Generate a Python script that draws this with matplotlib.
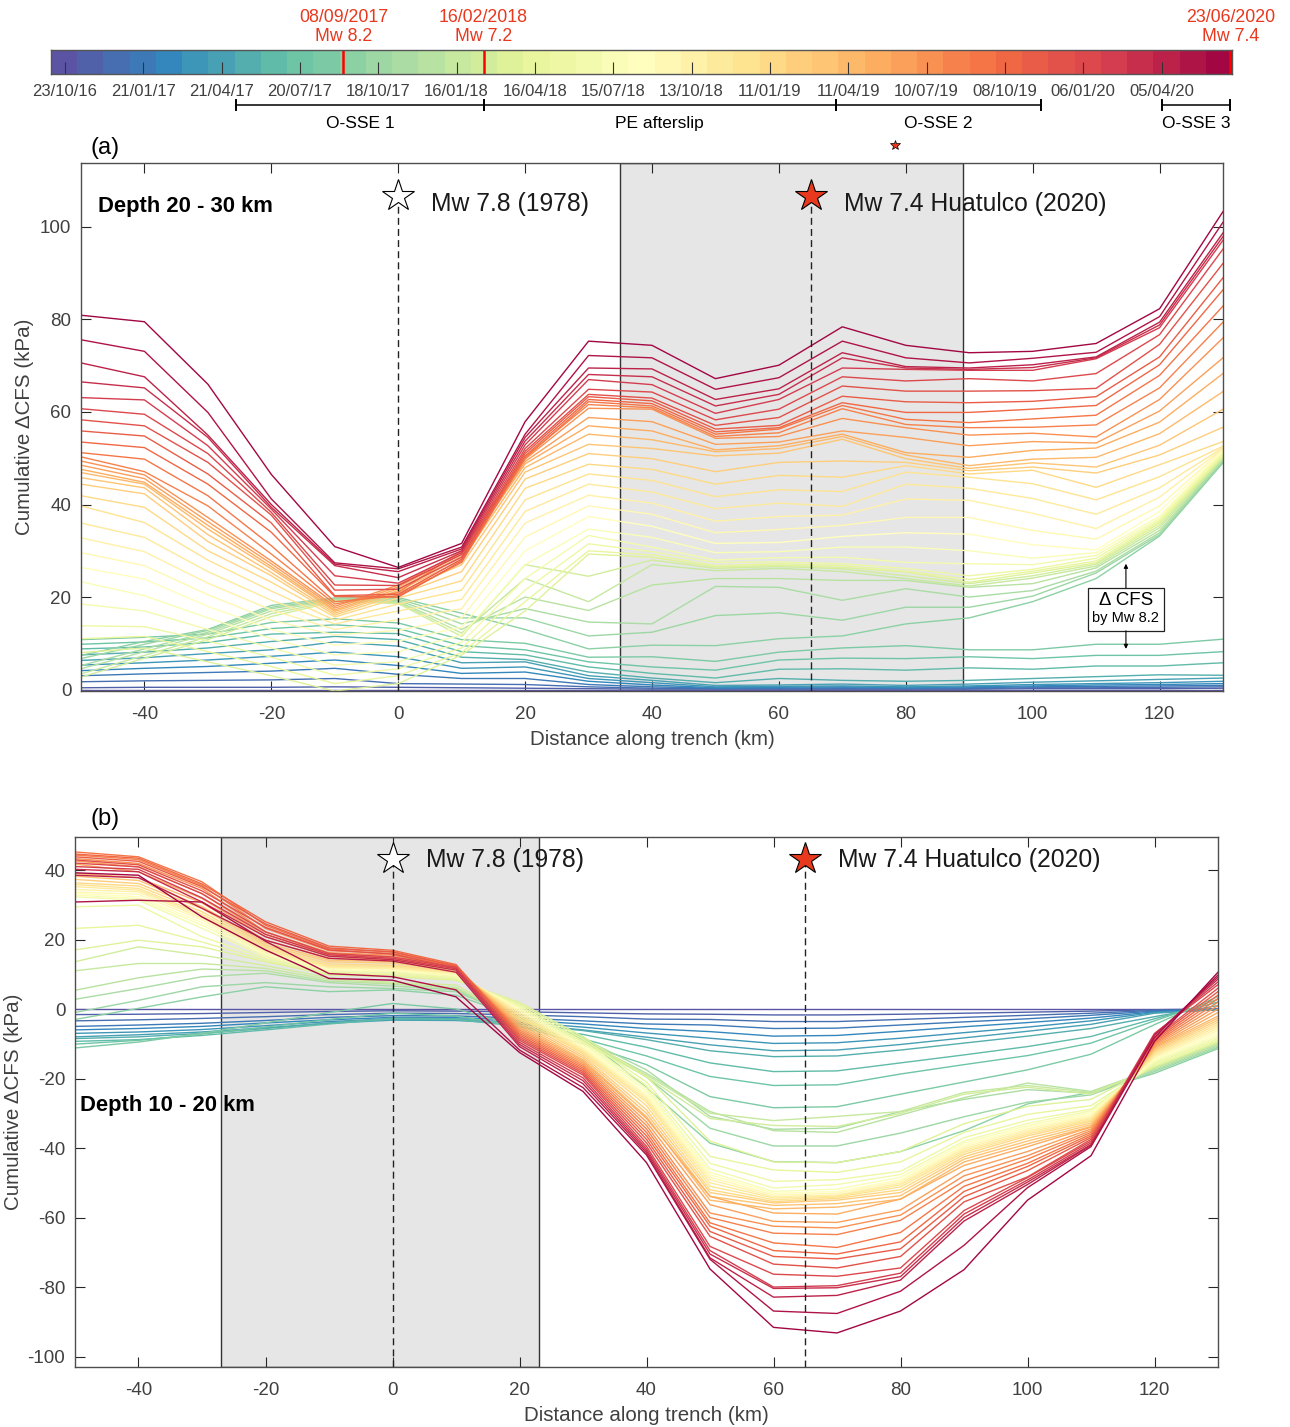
import numpy as np
import pandas as pd
import matplotlib
matplotlib.use('Agg')
import matplotlib.pyplot as plt
import matplotlib.dates as mdates
import matplotlib.transforms as mtransforms
from matplotlib.colors import ListedColormap
from matplotlib.patches import Rectangle

plt.rcParams['font.family'] = ['Liberation Sans', 'DejaVu Sans']
plt.rcParams['axes.unicode_minus'] = False

# distance along trench (km) where the profiles are sampled
distance = [-50, -40, -30, -20, -10, 0, 10, 20, 30, 40, 50, 60, 70, 80, 90, 100, 110, 120, 130]

# cumulative dCFS (kPa), depth 20-30 km
# one row per distance, one value per monthly epoch (oldest first)
cfs_20_30_by_distance = [
    [0, 0.4, 1.7, 3.0, 4.1, 5.3, 6.3, 7.5, 8.8, 9.8, 10.8, 7.4, 6.7, 5.2, 4.5, 3.4, 2.7, 8.0, 11.0, 13.8,
     18.5, 23.3, 26.4, 29.6, 32.8, 36.0, 39.7, 41.9, 44.4, 45.8, 46.9, 47.6, 48.5, 49.4, 50.3, 51.2, 53.5,
     55.9, 58.3, 60.7, 63.1, 66.5, 70.6, 75.6, 80.9],
    [0, 0.5, 1.9, 3.4, 4.6, 5.8, 6.9, 8.1, 9.2, 10.3, 11.3, 10.4, 9.8, 8.8, 8.2, 7.4, 6.8, 9.0, 11.5, 13.6,
     17.0, 20.3, 23.9, 26.8, 29.8, 32.9, 36.1, 39.4, 42.3, 43.6, 44.4, 44.8, 45.6, 46.4, 47.1, 49.8, 52.3,
     54.8, 57.0, 59.5, 62.6, 65.2, 67.6, 73.1, 79.5],
    [0, 0.5, 2.0, 3.7, 5.0, 6.4, 7.8, 9.0, 10.2, 11.2, 12.0, 13.0, 12.8, 12.4, 12.0, 11.4, 10.8, 6.0, 8.2, 10.5,
     13.0, 15.5, 18.0, 20.5, 23.0, 25.5, 28.0, 30.0, 32.0, 33.5, 34.7, 35.5, 36.3, 37.2, 39.7, 41.9, 44.4,
     46.6, 49.1, 51.0, 52.7, 54.5, 55.0, 59.9, 66.0],
    [0, 0.5, 2.1, 4.0, 5.7, 7.2, 8.6, 10.4, 12.0, 13.2, 14.5, 18.2, 17.8, 17.5, 17.0, 16.4, 15.8, 3.0, 5.0, 7.0,
     9.0, 11.0, 13.0, 15.0, 17.2, 19.3, 21.3, 23.2, 24.6, 25.3, 26.1, 26.6, 27.2, 27.8, 29.3, 31.1, 34.0,
     36.0, 37.7, 38.3, 39.0, 39.4, 40.0, 41.2, 46.5],
    [0, 0.6, 2.4, 4.6, 6.4, 8.1, 10.3, 11.5, 12.4, 14.0, 15.3, 19.8, 19.6, 19.5, 19.4, 19.2, 19.0, -0.3, 1.3, 3.1,
     5.3, 7.5, 9.6, 11.8, 13.0, 14.2, 15.0, 15.7, 16.1, 16.5, 16.9, 17.2, 17.6, 18.0, 18.5, 19.0, 20.1,
     20.3, 21.5, 22.6, 24.6, 26.8, 27.1, 27.4, 30.9],
    [0, 0.5, 1.3, 3.3, 5.2, 7.1, 9.4, 10.8, 12.1, 13.2, 14.4, 19.9, 19.6, 19.3, 19.0, 18.8, 18.6, 1.3, 3.0, 4.5,
     6.0, 8.2, 10.5, 12.8, 15.1, 17.0, 18.5, 19.8, 20.5, 21.0, 21.4, 21.8, 22.2, 22.6, 21.0, 20.3, 20.0,
     20.6, 21.7, 22.5, 23.0, 24.2, 25.5, 26.1, 26.4],
    [0, 0.4, 1.2, 2.4, 3.5, 4.6, 5.8, 7.0, 8.2, 9.5, 10.8, 16.5, 15.5, 14.2, 13.0, 12.2, 11.5, 7.5, 8.0, 9.0,
     10.2, 11.8, 13.5, 15.5, 17.5, 19.5, 21.5, 23.5, 25.5, 27.0, 28.0, 28.8, 29.3, 29.8, 30.0, 27.5, 27.8,
     28.2, 28.6, 29.2, 29.6, 30.0, 30.4, 30.8, 31.6],
    [0, 0.3, 1.1, 2.4, 3.8, 4.9, 6.0, 6.5, 7.5, 8.6, 10.0, 13.0, 15.5, 17.5, 20.0, 24.0, 27.0, 17.0, 19.0, 21.5,
     24.0, 27.0, 30.0, 33.0, 36.0, 38.5, 41.0, 43.5, 45.5, 47.0, 48.0, 48.8, 49.3, 49.8, 50.3, 50.0, 50.5,
     51.0, 51.5, 52.1, 52.9, 53.7, 54.5, 55.2, 57.9],
    [0, 0.2, 0.6, 1.1, 1.8, 2.4, 3.0, 3.8, 4.9, 6.0, 7.0, 8.8, 11.6, 14.6, 17.1, 19.0, 24.5, 29.3, 30.0, 31.5,
     33.3, 34.7, 37.4, 39.7, 42.0, 44.4, 46.6, 48.7, 51.0, 53.0, 55.2, 57.0, 58.8, 60.8, 61.6, 62.2, 62.7,
     63.3, 63.8, 64.9, 67.0, 68.1, 69.5, 72.2, 75.3],
    [0, 0.1, 0.3, 0.6, 1.0, 1.5, 2.0, 2.5, 3.5, 4.9, 7.1, 9.6, 12.4, 14.2, 22.6, 27.0, 28.0, 28.6, 29.1, 29.8,
     30.8, 32.9, 35.3, 37.9, 40.3, 42.7, 45.2, 47.6, 49.9, 52.1, 54.0, 55.9, 57.9, 60.6, 60.9, 61.3, 61.8,
     62.4, 63.0, 64.3, 65.9, 67.6, 69.3, 71.7, 74.4],
    [0, 0.1, 0.2, 0.3, 0.4, 0.6, 0.9, 1.5, 2.5, 4.2, 6.1, 9.5, 16.0, 22.3, 24.0, 25.7, 26.2, 26.5, 26.8, 27.5,
     28.0, 29.6, 31.6, 33.9, 36.4, 39.1, 41.7, 44.4, 47.1, 50.5, 51.4, 51.8, 53.0, 54.3, 54.7, 55.2, 55.7,
     56.3, 57.1, 58.3, 59.7, 61.3, 62.7, 64.9, 67.2],
    [0, 0.1, 0.2, 0.3, 0.5, 0.7, 1.0, 2.4, 4.4, 6.4, 8.1, 11.0, 16.6, 22.1, 24.0, 26.2, 26.6, 26.9, 27.2, 27.6,
     28.5, 29.8, 31.8, 34.6, 37.4, 40.3, 43.2, 46.3, 49.1, 51.1, 52.1, 52.7, 53.5, 54.7, 55.5, 56.3, 56.6,
     57.1, 58.8, 60.6, 62.7, 63.8, 65.0, 67.4, 70.1],
    [0, 0.1, 0.2, 0.4, 0.6, 0.8, 1.2, 2.0, 4.5, 6.8, 9.0, 11.6, 15.0, 19.3, 23.6, 25.5, 26.1, 26.4, 26.8, 27.2,
     28.6, 30.8, 33.1, 35.5, 37.7, 39.6, 42.8, 45.9, 49.4, 54.1, 54.7, 55.2, 55.9, 58.6, 60.7, 61.4, 62.0,
     63.4, 65.6, 67.6, 69.5, 71.7, 72.8, 75.3, 78.4],
    [0, 0.1, 0.2, 0.3, 0.4, 0.6, 0.9, 1.8, 4.2, 6.7, 9.5, 14.2, 17.8, 21.8, 23.6, 24.0, 24.6, 25.4, 25.6, 26.2,
     27.5, 30.8, 33.9, 37.2, 41.2, 44.4, 47.0, 48.4, 49.1, 49.9, 50.7, 51.2, 54.5, 56.6, 57.3, 58.4, 59.9,
     62.2, 64.5, 66.7, 69.2, 69.5, 69.8, 71.7, 74.4],
    [0, 0.1, 0.2, 0.4, 0.6, 0.8, 1.2, 2.0, 4.7, 7.1, 8.6, 15.5, 17.8, 20.0, 22.1, 22.4, 22.9, 23.2, 23.8, 24.6,
     27.2, 30.0, 33.6, 37.2, 40.9, 43.5, 45.9, 46.6, 47.3, 47.8, 48.4, 50.2, 52.7, 55.0, 56.6, 57.7, 59.9,
     62.0, 64.5, 67.2, 69.0, 69.2, 69.5, 70.6, 72.8],
    [0, 0.2, 0.4, 0.6, 0.8, 1.1, 1.6, 2.4, 4.4, 6.7, 8.6, 19.0, 20.2, 21.4, 22.9, 24.1, 24.6, 25.2, 25.6, 26.0,
     27.0, 28.4, 31.3, 34.4, 38.1, 41.3, 44.5, 47.4, 48.1, 49.0, 49.8, 51.7, 53.6, 55.4, 56.7, 58.5, 60.6,
     62.3, 64.6, 66.7, 69.0, 69.6, 70.2, 71.6, 73.1],
    [0, 0.2, 0.4, 0.7, 1.0, 1.3, 1.9, 2.8, 5.1, 7.4, 9.8, 24.0, 25.2, 25.6, 26.3, 26.7, 27.1, 27.4, 27.8, 28.4,
     29.0, 29.6, 30.2, 32.5, 34.8, 37.9, 41.0, 43.7, 46.8, 48.1, 50.2, 52.2, 53.3, 54.6, 57.2, 59.3, 61.4,
     63.3, 65.1, 68.3, 71.5, 71.7, 71.9, 72.9, 74.8],
    [0, 0.2, 0.5, 0.8, 1.1, 1.5, 2.2, 3.2, 5.1, 7.4, 9.8, 33.2, 33.5, 33.9, 34.4, 35.0, 35.5, 36.0, 36.3, 36.6,
     37.0, 37.5, 38.5, 39.7, 41.6, 43.6, 46.0, 48.6, 50.7, 52.8, 55.3, 57.8, 60.2, 62.7, 65.2, 67.9, 70.2,
     71.9, 74.6, 76.7, 78.2, 78.8, 79.4, 80.6, 82.3],
    [0, 0.3, 0.6, 0.9, 1.3, 1.8, 2.5, 3.1, 5.8, 8.2, 10.9, 49.0, 49.3, 49.6, 49.8, 50.0, 50.2, 50.4, 50.7, 51.0,
     51.3, 51.5, 51.7, 51.9, 52.1, 52.3, 52.6, 53.6, 56.7, 60.6, 64.4, 68.3, 71.7, 76.0, 79.4, 82.9, 86.4,
     89.0, 92.1, 95.2, 97.1, 97.9, 98.7, 101.0, 103.3],
]

# cumulative dCFS (kPa), depth 10-20 km
# one row per monthly epoch (oldest first), one value per distance
cfs_10_20 = [
    [0, 0, 0, 0, 0, 0, 0, 0, 0, 0, 0, 0, 0, 0, 0, 0, 0, 0, 0],
    [-1.6, -1.5, -1.3, -1.0, -0.7, -0.5, -0.6, -0.8, -1.1, -1.4, -1.5, -1.7, -1.7, -1.5, -1.2, -0.9, -0.6, -0.2, 0.0],
    [-3.4, -3.1, -2.7, -2.2, -1.6, -1.2, -1.3, -1.7, -2.2, -2.9, -3.0, -3.6, -3.6, -3.0, -2.4, -1.8, -1.2, -0.4, 0.0],
    [-5.0, -4.6, -4.1, -3.3, -2.4, -1.9, -2.0, -2.6, -3.4, -4.3, -4.6, -5.6, -5.5, -4.6, -3.7, -2.8, -1.8, -0.6, -0.1],
    [-6.0, -5.6, -5.0, -4.0, -3.1, -2.4, -2.5, -3.2, -4.3, -5.6, -6.5, -7.8, -7.6, -6.4, -5.1, -3.9, -2.6, -0.8, -0.2],
    [-7.0, -6.6, -5.9, -4.8, -3.6, -2.9, -3.0, -3.8, -5.2, -6.9, -8.4, -9.9, -9.7, -8.4, -6.8, -5.2, -3.4, -1.0, -0.2],
    [-8.0, -7.4, -6.6, -5.4, -4.1, -3.2, -3.3, -4.3, -6.0, -8.1, -10.3, -12.0, -11.8, -10.2, -8.3, -6.4, -4.4, -1.2, -0.2],
    [-8.5, -8.0, -7.0, -5.6, -4.0, -2.6, -2.8, -4.4, -6.2, -8.8, -12.0, -13.7, -13.5, -11.8, -9.8, -7.8, -5.6, -2.2, 1.0],
    [-9.3, -8.8, -7.6, -6.0, -4.3, -2.8, -3.0, -5.0, -7.3, -11.0, -15.5, -18.0, -17.8, -15.5, -13.2, -10.8, -7.9, -2.8, 2.0],
    [-10.1, -9.0, -7.2, -5.2, -3.0, -1.2, -2.0, -5.0, -8.6, -13.5, -19.4, -22.0, -21.8, -18.7, -16.0, -13.4, -9.8, -3.4, 2.8],
    [-11.2, -9.5, -7.0, -4.0, -1.0, 1.6, 0.0, -5.0, -10.0, -16.0, -25.2, -28.4, -28.1, -24.5, -21.0, -17.5, -13.0, -4.5, 3.6],
    [-3.0, 0.2, 3.5, 6.4, 5.0, 5.5, 4.0, -2.5, -8.0, -22.6, -38.6, -43.9, -44.2, -41.0, -35.0, -27.3, -24.0, -18.5, -11.4],
    [-1.0, 2.5, 6.4, 7.6, 6.4, 5.9, 5.0, -2.5, -8.0, -19.6, -34.3, -39.4, -39.4, -35.7, -31.0, -26.8, -24.7, -18.0, -11.0],
    [2.8, 5.9, 9.3, 10.3, 7.6, 6.6, 5.5, -2.8, -8.5, -17.5, -30.9, -34.6, -34.3, -29.5, -26.0, -23.2, -24.2, -17.6, -10.6],
    [5.4, 9.0, 11.5, 11.0, 8.0, 7.2, 5.9, -3.0, -9.0, -18.5, -29.5, -35.0, -35.5, -30.5, -25.5, -21.3, -23.7, -17.2, -10.2],
    [11.0, 13.1, 13.1, 11.7, 8.5, 7.4, 6.2, -3.2, -9.3, -19.0, -30.0, -32.1, -30.9, -29.5, -24.0, -22.0, -24.0, -17.0, -9.8],
    [13.6, 17.9, 15.5, 12.5, 9.0, 7.7, 6.9, -3.0, -9.5, -19.5, -31.5, -33.5, -33.8, -30.0, -24.5, -22.5, -24.5, -16.8, -9.5],
    [17.0, 19.8, 17.9, 13.6, 9.8, 9.3, 8.3, 1.9, -8.0, -19.5, -38.0, -44.0, -44.2, -41.0, -33.0, -28.0, -26.0, -16.5, -9.5],
    [23.2, 24.1, 19.3, 14.0, 10.2, 9.8, 8.6, 1.5, -8.6, -21.0, -42.4, -46.3, -47.0, -44.0, -35.5, -30.3, -27.8, -16.0, -9.0],
    [29.4, 29.9, 20.8, 14.6, 10.6, 10.2, 9.0, 1.0, -9.3, -22.0, -44.4, -49.6, -49.1, -46.7, -37.0, -32.0, -28.8, -15.6, -8.5],
    [32.3, 31.3, 23.2, 15.0, 11.0, 10.7, 9.3, 0.6, -9.8, -22.8, -46.0, -51.5, -50.5, -47.6, -38.0, -32.9, -29.3, -15.2, -8.0],
    [32.8, 31.8, 24.1, 15.5, 11.2, 11.0, 9.6, 0.2, -10.3, -23.6, -47.0, -52.5, -51.8, -48.4, -38.6, -33.5, -29.8, -14.8, -7.4],
    [33.3, 32.3, 24.8, 15.8, 11.5, 11.2, 9.8, -0.2, -10.8, -24.4, -47.7, -53.0, -52.5, -49.1, -39.2, -34.0, -30.3, -14.4, -6.8],
    [33.7, 33.0, 25.6, 16.2, 11.8, 11.5, 10.0, -0.6, -11.2, -25.0, -48.4, -53.5, -53.0, -49.6, -39.7, -34.5, -30.7, -14.0, -6.2],
    [34.4, 33.7, 26.2, 16.5, 12.0, 11.7, 10.3, -1.0, -11.6, -25.6, -49.1, -54.0, -53.5, -50.1, -40.2, -35.0, -31.1, -13.6, -5.6],
    [35.2, 34.2, 26.8, 17.0, 12.2, 12.0, 10.5, -1.5, -12.0, -26.2, -50.0, -54.4, -53.8, -50.6, -40.7, -35.5, -31.5, -13.2, -5.0],
    [35.8, 34.7, 27.3, 17.4, 12.5, 12.3, 10.7, -2.0, -12.4, -26.8, -51.0, -54.9, -54.1, -51.2, -41.2, -36.0, -31.9, -12.8, -4.4],
    [36.3, 35.4, 28.0, 17.9, 13.0, 12.6, 11.0, -2.6, -12.8, -27.8, -52.0, -55.4, -54.5, -52.0, -41.8, -36.5, -32.3, -12.4, -3.8],
    [37.3, 36.1, 28.9, 18.4, 13.6, 13.2, 11.2, -3.2, -13.4, -29.0, -52.8, -55.8, -55.0, -52.8, -42.5, -37.2, -32.8, -12.0, -3.2],
    [38.2, 37.0, 29.5, 19.0, 14.1, 13.6, 11.5, -3.8, -14.0, -30.0, -53.9, -56.5, -56.0, -53.7, -43.2, -38.0, -33.3, -11.6, -2.6],
    [39.0, 37.8, 30.5, 19.8, 14.6, 14.1, 11.8, -4.4, -14.6, -31.0, -55.0, -57.5, -57.0, -54.7, -44.0, -38.8, -33.8, -11.2, -2.0],
    [41.7, 39.5, 31.8, 20.8, 15.2, 14.5, 11.8, -5.0, -15.0, -31.5, -53.9, -58.7, -59.0, -54.7, -45.0, -39.6, -34.0, -11.0, -1.0],
    [42.6, 40.9, 33.2, 21.5, 15.8, 15.0, 11.9, -5.5, -15.5, -32.5, -56.3, -61.1, -61.4, -57.8, -46.5, -41.0, -34.5, -10.6, 0.0],
    [43.3, 41.9, 34.7, 22.2, 16.2, 15.5, 12.0, -6.0, -16.0, -33.5, -58.7, -62.5, -63.0, -59.3, -48.0, -42.2, -35.0, -10.2, 1.0],
    [44.3, 43.0, 35.6, 23.2, 16.8, 16.0, 12.2, -6.5, -16.5, -34.5, -60.0, -64.5, -64.9, -60.8, -49.5, -43.2, -35.5, -9.8, 2.0],
    [45.2, 43.8, 36.6, 24.1, 17.3, 16.5, 12.5, -7.0, -17.0, -35.5, -61.5, -67.3, -68.6, -64.3, -51.0, -44.4, -36.0, -9.4, 3.0],
    [44.6, 43.4, 36.0, 25.1, 18.1, 16.9, 12.8, -7.5, -17.5, -36.5, -62.5, -69.5, -70.5, -67.0, -52.5, -45.3, -36.5, -9.0, 4.0],
    [43.8, 42.5, 35.2, 24.5, 17.6, 16.4, 12.3, -8.0, -18.0, -37.5, -64.0, -71.2, -71.9, -69.0, -54.0, -46.5, -37.0, -8.6, 5.0],
    [42.9, 41.5, 34.0, 23.5, 17.0, 15.8, 11.8, -8.5, -18.5, -38.5, -65.4, -73.4, -74.5, -71.2, -55.5, -48.3, -37.5, -8.3, 6.0],
    [42.0, 40.9, 33.2, 22.2, 16.0, 15.0, 12.0, -9.0, -19.0, -39.5, -68.3, -76.3, -76.9, -74.5, -58.0, -48.5, -38.0, -7.0, 7.0],
    [41.0, 40.2, 32.0, 21.5, 15.6, 14.6, 11.6, -9.6, -19.8, -40.2, -69.5, -80.0, -79.6, -76.0, -59.0, -49.2, -38.5, -7.2, 7.8],
    [40.2, 39.5, 30.8, 20.8, 15.2, 14.2, 11.2, -10.2, -20.6, -40.8, -70.5, -80.4, -80.2, -77.0, -60.0, -49.8, -39.0, -7.4, 8.6],
    [38.5, 37.8, 29.0, 19.8, 14.6, 13.8, 10.6, -10.8, -21.5, -41.4, -71.6, -82.9, -82.4, -78.0, -61.0, -50.5, -39.2, -7.6, 9.2],
    [30.8, 31.3, 30.8, 19.5, 10.2, 9.3, 5.5, -11.8, -22.6, -42.0, -72.0, -86.9, -87.6, -81.2, -68.0, -51.4, -39.6, -8.2, 9.8],
    [39.2, 38.5, 26.5, 17.0, 8.8, 8.3, 3.5, -12.5, -23.7, -44.2, -74.8, -91.6, -93.2, -86.9, -75.0, -55.0, -42.2, -9.3, 10.6],
]

# colour bar: one cell per monthly epoch
epoch_first = '07/10/2016'
epoch_last = '25/06/2020'
date_ticks = ['23/10/16', '21/01/17', '21/04/17', '20/07/17', '18/10/17', '16/01/18', '16/04/18', '15/07/18',
              '13/10/18', '11/01/19', '11/04/19', '10/07/19', '08/10/19', '06/01/20', '05/04/20']

event_dates = ['08/09/2017', '16/02/2018', '23/06/2020']
event_names = ['Mw 8.2', 'Mw 7.2', 'Mw 7.4']

phases = ['O-SSE 1', 'PE afterslip', 'O-SSE 2', 'O-SSE 3']
phase_start = ['08/05/2017', '16/02/2018', '28/03/2019', '06/04/2020']
phase_end = ['16/02/2018', '28/03/2019', '19/11/2019', '23/06/2020']
marked_day = '04/06/2019'

# large earthquakes along the profile
quake_x = [0, 65]
quake_names = ['Mw 7.8 (1978)', 'Mw 7.4 Huatulco (2020)']
quake_face = ['white', '#e8381e']

profiles_a = np.array(cfs_20_30_by_distance).T
profiles_b = np.array(cfs_10_20)
n_epochs = profiles_b.shape[0]
line_colors = plt.get_cmap('Spectral_r')((np.arange(n_epochs) + 0.5) / n_epochs)

GREY = '#404040'


def to_num(day):
    return mdates.date2num(pd.to_datetime(day, dayfirst=True))


fig = plt.figure(figsize=(12.9, 14.27), dpi=100)
W, H = 1290.0, 1427.0
ax_cb = fig.add_axes([51 / W, 1 - 74 / H, 1181 / W, 24 / H])
ax_a = fig.add_axes([81 / W, 1 - 691 / H, 1142 / W, 528 / H])
ax_b = fig.add_axes([75 / W, 1 - 1367 / H, 1143 / W, 530 / H])

# ---- colour bar with the time line ----
t0, t1 = to_num(epoch_first), to_num(epoch_last)
edges = np.linspace(t0, t1, n_epochs + 1)
ax_cb.pcolormesh(edges, [0, 1], np.arange(n_epochs)[None, :], cmap=ListedColormap(line_colors),
                 vmin=-0.5, vmax=n_epochs - 0.5)
ax_cb.set_xlim(t0, t1)
ax_cb.set_ylim(0, 1)
ax_cb.set_yticks([])
tick_pos = [mdates.date2num(pd.to_datetime(d, format='%d/%m/%y')) for d in date_ticks]
ax_cb.set_xticks(tick_pos)
ax_cb.set_xticklabels(date_ticks)
ax_cb.tick_params(axis='x', direction='in', length=8.5, width=0.8, color='#333333',
                  labelsize=12, labelcolor=GREY, pad=7)
for s in ax_cb.spines.values():
    s.set_color('#555555')
    s.set_linewidth(1.0)

for day, name in zip(event_dates, event_names):
    xd = to_num(day)
    ax_cb.axvline(xd, color='#ff0000', lw=1.8)
    ax_cb.text(xd, 1.2, day + '\n' + name, ha='center', va='bottom', color='#e8381e',
               fontsize=12.8, linespacing=1.2, clip_on=False)

trans = mtransforms.blended_transform_factory(ax_cb.transData, ax_cb.transAxes)
for name, s, e in zip(phases, phase_start, phase_end):
    xs, xe = to_num(s), to_num(e)
    ax_cb.plot([xs, xe], [-1.29, -1.29], color='k', lw=1.1, transform=trans, clip_on=False)
    for xx in (xs, xe):
        ax_cb.plot([xx, xx], [-1.08, -1.5], color='k', lw=1.4, transform=trans, clip_on=False)
    ax_cb.text((xs + xe) / 2, -2.08, name, ha='center', va='center', fontsize=12.5,
               transform=trans, clip_on=False)
ax_cb.plot(to_num(marked_day), -2.96, marker='*', ms=7, mfc='#e8381e', mec='k', mew=0.5,
           transform=trans, clip_on=False)


# ---- profile panels ----
def draw_panel(ax, profiles, shade, ylim, yticks, star_y, text_y, depth_label, depth_xy, ylabelpad):
    ax.axvspan(shade[0], shade[1], facecolor='#e6e6e6', edgecolor='#333333', lw=1.0, zorder=0)
    for k, prof in enumerate(profiles):
        ax.plot(distance, prof, color=line_colors[k], lw=1.0, zorder=2)
    for xq, name, face in zip(quake_x, quake_names, quake_face):
        ax.plot([xq, xq], [ylim[0], star_y], color='#222222', ls='--', dashes=(5, 3), lw=1.0, zorder=3)
        ax.plot(xq, star_y, marker='*', ms=24, mfc=face, mec='k', mew=0.8, zorder=4)
        ax.text(xq + 5.2, text_y, name, fontsize=17.8, color='#1a1a1a', va='center',
                ha='left', zorder=5)
    ax.text(depth_xy[0], depth_xy[1], depth_label, fontsize=15.8, fontweight='bold', va='center',
            ha='left', zorder=5)
    ax.set_xlim(-50, 130)
    ax.set_ylim(*ylim)
    ax.set_xticks([-40, -20, 0, 20, 40, 60, 80, 100, 120])
    ax.set_yticks(yticks)
    ax.tick_params(direction='in', top=True, right=True, length=7, width=0.8, color='#262626',
                   labelsize=13.5, labelcolor=GREY)
    ax.tick_params(axis='x', pad=11)
    ax.tick_params(axis='y', pad=7)
    for s in ax.spines.values():
        s.set_color('#4d4d4d')
        s.set_linewidth(1.0)
    ax.set_xlabel('Distance along trench (km)', fontsize=14.8, color=GREY, labelpad=5)
    ax.set_ylabel('Cumulative ΔCFS (kPa)', fontsize=14.8, color=GREY, labelpad=ylabelpad)


draw_panel(ax_a, profiles_a, (35, 89), (-0.3, 113.8), [0, 20, 40, 60, 80, 100], 106.7, 104.9,
           'Depth 20 - 30 km', (-47.3, 104.5), 4)
draw_panel(ax_b, profiles_b, (-27, 23), (-103, 49.5), [-100, -80, -60, -40, -20, 0, 20, 40], 43.3, 42.8,
           'Depth 10 - 20 km', (-49.2, -27.9), 3)

# coseismic step of the Mw 8.2 on the deep profile
box_x, box_y = (108.7, 120.7), (12.7, 22.0)
ax_a.add_patch(Rectangle((box_x[0], box_y[0]), box_x[1] - box_x[0], box_y[1] - box_y[0],
                         facecolor='white', edgecolor='#222222', lw=0.9, zorder=6))
ax_a.text(114.7, 19.2, 'Δ CFS', fontsize=13.5, ha='center', va='center', zorder=7)
ax_a.text(114.7, 15.4, 'by Mw 8.2', fontsize=10.5, ha='center', va='center', zorder=7)
for y_from, y_to in ((box_y[1], 27.2), (box_y[0], 8.8)):
    ax_a.annotate('', xy=(114.7, y_to), xytext=(114.7, y_from), zorder=7,
                  arrowprops=dict(arrowstyle='-|>', lw=0.8, color='k', mutation_scale=6,
                                  shrinkA=0, shrinkB=0))

fig.text(90 / W, 1 - 148 / H, '(a)', fontsize=17, ha='left', va='center')
fig.text(90 / W, 1 - 819 / H, '(b)', fontsize=17, ha='left', va='center')

fig.savefig('out.png', dpi=100)
